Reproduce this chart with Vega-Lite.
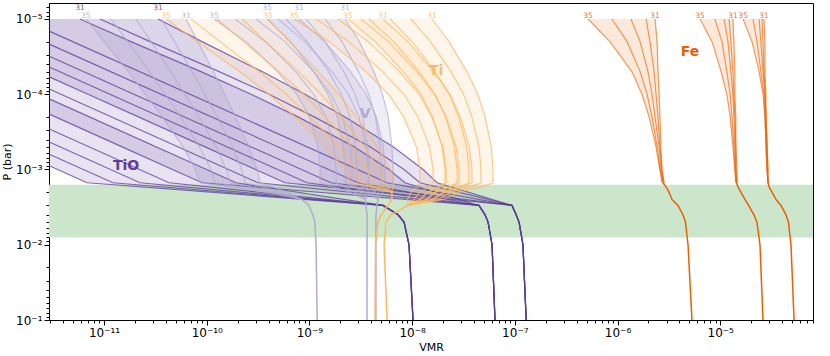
{
"$schema":"https://vega.github.io/schema/vega-lite/v6.json",
"width":764,"height":317,
"autosize":{"type":"none"},
"padding":{"left":49,"top":3,"right":17,"bottom":36},
"background":"white",
"datasets":{
"band":[{"P":0.0016,"P2":0.008,"v":2.91e-12,"v2":8.01e-5}],
"nm":[{"s":"TiO","n":"TiO","v":1.64e-11,"P":9.12e-4},{"s":"V","n":"V","v":3.48e-9,"P":1.82e-4},{"s":"Ti","n":"Ti","v":1.71e-8,"P":4.9e-5},{"s":"Fe","n":"Fe","v":5.08e-6,"P":2.74e-5}],
"lab":[
{"s":"TiO","t":"31","v":5.84e-12,"P":7.7e-6},{"s":"TiO","t":"31","v":3.36e-11,"P":7.7e-6},
{"s":"V","t":"35","v":6.68e-12,"P":9.8e-6},{"s":"V","t":"31","v":6.28e-11,"P":9.8e-6},{"s":"V","t":"35","v":1.18e-10,"P":9.8e-6},
{"s":"V","t":"35","v":3.86e-10,"P":7.7e-6},{"s":"V","t":"31","v":7.92e-10,"P":7.7e-6},{"s":"V","t":"31","v":2.22e-9,"P":7.7e-6},
{"s":"Ti","t":"35","v":4.01e-11,"P":9.8e-6},{"s":"Ti","t":"31","v":3.95e-10,"P":9.8e-6},{"s":"Ti","t":"35","v":7.08e-10,"P":9.8e-6},
{"s":"Ti","t":"35","v":2.37e-9,"P":9.8e-6},{"s":"Ti","t":"31","v":5.21e-9,"P":9.8e-6},{"s":"Ti","t":"31","v":1.56e-8,"P":9.8e-6},
{"s":"Fe","t":"35","v":5.17e-7,"P":9.8e-6},{"s":"Fe","t":"31","v":2.32e-6,"P":9.8e-6},{"s":"Fe","t":"35","v":6.36e-6,"P":9.8e-6},
{"s":"Fe","t":"31","v":1.33e-5,"P":9.8e-6},{"s":"Fe","t":"35","v":1.67e-5,"P":9.8e-6},{"s":"Fe","t":"31","v":2.67e-5,"P":9.8e-6}
],
"c":[
{"s":"TiO","g":"C","t":31,"P":1e-5,"v":3.36e-11},{"s":"TiO","g":"C","t":31,"P":2e-5,"v":9.0e-11},{"s":"TiO","g":"C","t":31,"P":5e-5,"v":3.46e-10},{"s":"TiO","g":"C","t":31,"P":1e-4,"v":9.04e-10},{"s":"TiO","g":"C","t":31,"P":2e-4,"v":2.22e-9},{"s":"TiO","g":"C","t":31,"P":5e-4,"v":6.52e-9},{"s":"TiO","g":"C","t":31,"P":0.001,"v":1.28e-8},{"s":"TiO","g":"C","t":31,"P":0.0015,"v":1.75e-8},{"s":"TiO","g":"C","t":31,"P":0.003,"v":9.39e-8},{"s":"TiO","g":"C","t":31,"P":0.004,"v":1.03e-7},{"s":"TiO","g":"C","t":31,"P":0.005,"v":1.1e-7},{"s":"TiO","g":"C","t":31,"P":0.01,"v":1.2e-7},{"s":"TiO","g":"C","t":31,"P":0.1,"v":1.29e-7},
{"s":"TiO","g":"C","t":32,"P":1e-5,"v":9.13e-12},{"s":"TiO","g":"C","t":32,"P":2e-5,"v":2.81e-11},{"s":"TiO","g":"C","t":32,"P":5e-5,"v":1.32e-10},{"s":"TiO","g":"C","t":32,"P":1e-4,"v":4.04e-10},{"s":"TiO","g":"C","t":32,"P":2e-4,"v":1.11e-9},{"s":"TiO","g":"C","t":32,"P":5e-4,"v":3.89e-9},{"s":"TiO","g":"C","t":32,"P":0.001,"v":8.34e-9},{"s":"TiO","g":"C","t":32,"P":0.0015,"v":1.19e-8},{"s":"TiO","g":"C","t":32,"P":0.003,"v":9.39e-8},{"s":"TiO","g":"C","t":32,"P":0.004,"v":1.03e-7},{"s":"TiO","g":"C","t":32,"P":0.005,"v":1.1e-7},{"s":"TiO","g":"C","t":32,"P":0.01,"v":1.2e-7},{"s":"TiO","g":"C","t":32,"P":0.1,"v":1.29e-7},
{"s":"TiO","g":"C","t":33,"P":1e-5,"v":1.6e-12},{"s":"TiO","g":"C","t":33,"P":0.0015,"v":5.7e-9},{"s":"TiO","g":"C","t":33,"P":0.003,"v":9.39e-8},{"s":"TiO","g":"C","t":33,"P":0.004,"v":1.03e-7},{"s":"TiO","g":"C","t":33,"P":0.005,"v":1.1e-7},{"s":"TiO","g":"C","t":33,"P":0.01,"v":1.2e-7},{"s":"TiO","g":"C","t":33,"P":0.1,"v":1.29e-7},
{"s":"TiO","g":"C","t":34,"P":1e-5,"v":4.56e-13},{"s":"TiO","g":"C","t":34,"P":0.0015,"v":1.62e-9},{"s":"TiO","g":"C","t":34,"P":0.003,"v":9.39e-8},{"s":"TiO","g":"C","t":34,"P":0.004,"v":1.03e-7},{"s":"TiO","g":"C","t":34,"P":0.005,"v":1.1e-7},{"s":"TiO","g":"C","t":34,"P":0.01,"v":1.2e-7},{"s":"TiO","g":"C","t":34,"P":0.1,"v":1.29e-7},
{"s":"TiO","g":"C","t":35,"P":1e-5,"v":1.63e-13},{"s":"TiO","g":"C","t":35,"P":2e-5,"v":5.04e-13},{"s":"TiO","g":"C","t":35,"P":5e-5,"v":2.25e-12},{"s":"TiO","g":"C","t":35,"P":1e-4,"v":6.97e-12},{"s":"TiO","g":"C","t":35,"P":2e-4,"v":2.16e-11},{"s":"TiO","g":"C","t":35,"P":5e-4,"v":9.63e-11},{"s":"TiO","g":"C","t":35,"P":0.001,"v":2.98e-10},{"s":"TiO","g":"C","t":35,"P":0.0015,"v":5.79e-10},{"s":"TiO","g":"C","t":35,"P":0.003,"v":9.39e-8},{"s":"TiO","g":"C","t":35,"P":0.004,"v":1.03e-7},{"s":"TiO","g":"C","t":35,"P":0.005,"v":1.1e-7},{"s":"TiO","g":"C","t":35,"P":0.01,"v":1.2e-7},{"s":"TiO","g":"C","t":35,"P":0.1,"v":1.29e-7},
{"s":"TiO","g":"B","t":31,"P":1e-5,"v":5.84e-12},{"s":"TiO","g":"B","t":31,"P":2e-5,"v":1.83e-11},{"s":"TiO","g":"B","t":31,"P":5e-5,"v":8.78e-11},{"s":"TiO","g":"B","t":31,"P":1e-4,"v":2.7e-10},{"s":"TiO","g":"B","t":31,"P":2e-4,"v":7.74e-10},{"s":"TiO","g":"B","t":31,"P":5e-4,"v":2.72e-9},{"s":"TiO","g":"B","t":31,"P":0.001,"v":5.96e-9},{"s":"TiO","g":"B","t":31,"P":0.0015,"v":8.53e-9},{"s":"TiO","g":"B","t":31,"P":0.003,"v":4.48e-8},{"s":"TiO","g":"B","t":31,"P":0.004,"v":5.13e-8},{"s":"TiO","g":"B","t":31,"P":0.005,"v":5.49e-8},{"s":"TiO","g":"B","t":31,"P":0.01,"v":6.0e-8},{"s":"TiO","g":"B","t":31,"P":0.1,"v":6.41e-8},
{"s":"TiO","g":"B","t":32,"P":1e-5,"v":8.36e-13},{"s":"TiO","g":"B","t":32,"P":0.0015,"v":2.97e-9},{"s":"TiO","g":"B","t":32,"P":0.003,"v":4.48e-8},{"s":"TiO","g":"B","t":32,"P":0.004,"v":5.13e-8},{"s":"TiO","g":"B","t":32,"P":0.005,"v":5.49e-8},{"s":"TiO","g":"B","t":32,"P":0.01,"v":6.0e-8},{"s":"TiO","g":"B","t":32,"P":0.1,"v":6.41e-8},
{"s":"TiO","g":"B","t":33,"P":1e-5,"v":2.66e-13},{"s":"TiO","g":"B","t":33,"P":0.0015,"v":9.47e-10},{"s":"TiO","g":"B","t":33,"P":0.003,"v":4.48e-8},{"s":"TiO","g":"B","t":33,"P":0.004,"v":5.13e-8},{"s":"TiO","g":"B","t":33,"P":0.005,"v":5.49e-8},{"s":"TiO","g":"B","t":33,"P":0.01,"v":6.0e-8},{"s":"TiO","g":"B","t":33,"P":0.1,"v":6.41e-8},
{"s":"TiO","g":"B","t":34,"P":1e-5,"v":8.87e-14},{"s":"TiO","g":"B","t":34,"P":0.0015,"v":3.16e-10},{"s":"TiO","g":"B","t":34,"P":0.003,"v":4.48e-8},{"s":"TiO","g":"B","t":34,"P":0.004,"v":5.13e-8},{"s":"TiO","g":"B","t":34,"P":0.005,"v":5.49e-8},{"s":"TiO","g":"B","t":34,"P":0.01,"v":6.0e-8},{"s":"TiO","g":"B","t":34,"P":0.1,"v":6.41e-8},
{"s":"TiO","g":"B","t":35,"P":1e-5,"v":2.53e-14},{"s":"TiO","g":"B","t":35,"P":2e-5,"v":7.85e-14},{"s":"TiO","g":"B","t":35,"P":5e-5,"v":3.49e-13},{"s":"TiO","g":"B","t":35,"P":1e-4,"v":1.08e-12},{"s":"TiO","g":"B","t":35,"P":2e-4,"v":3.36e-12},{"s":"TiO","g":"B","t":35,"P":5e-4,"v":1.5e-11},{"s":"TiO","g":"B","t":35,"P":0.001,"v":4.63e-11},{"s":"TiO","g":"B","t":35,"P":0.0015,"v":9.0e-11},{"s":"TiO","g":"B","t":35,"P":0.003,"v":4.48e-8},{"s":"TiO","g":"B","t":35,"P":0.004,"v":5.13e-8},{"s":"TiO","g":"B","t":35,"P":0.005,"v":5.49e-8},{"s":"TiO","g":"B","t":35,"P":0.01,"v":6.0e-8},{"s":"TiO","g":"B","t":35,"P":0.1,"v":6.41e-8},
{"s":"TiO","g":"A","t":31,"P":1e-5,"v":5.42e-14},{"s":"TiO","g":"A","t":31,"P":0.0015,"v":1.93e-10},{"s":"TiO","g":"A","t":31,"P":0.003,"v":5.21e-9},{"s":"TiO","g":"A","t":31,"P":0.004,"v":7.3e-9},{"s":"TiO","g":"A","t":31,"P":0.005,"v":8.34e-9},{"s":"TiO","g":"A","t":31,"P":0.01,"v":9.33e-9},{"s":"TiO","g":"A","t":31,"P":0.1,"v":1.02e-8},
{"s":"TiO","g":"A","t":32,"P":1e-5,"v":1.21e-14},{"s":"TiO","g":"A","t":32,"P":0.0015,"v":4.3e-11},{"s":"TiO","g":"A","t":32,"P":0.003,"v":5.21e-9},{"s":"TiO","g":"A","t":32,"P":0.004,"v":7.3e-9},{"s":"TiO","g":"A","t":32,"P":0.005,"v":8.34e-9},{"s":"TiO","g":"A","t":32,"P":0.01,"v":9.33e-9},{"s":"TiO","g":"A","t":32,"P":0.1,"v":1.02e-8},
{"s":"TiO","g":"A","t":33,"P":1e-5,"v":6.31e-15},{"s":"TiO","g":"A","t":33,"P":0.0015,"v":2.24e-11},{"s":"TiO","g":"A","t":33,"P":0.003,"v":5.21e-9},{"s":"TiO","g":"A","t":33,"P":0.004,"v":7.3e-9},{"s":"TiO","g":"A","t":33,"P":0.005,"v":8.34e-9},{"s":"TiO","g":"A","t":33,"P":0.01,"v":9.33e-9},{"s":"TiO","g":"A","t":33,"P":0.1,"v":1.02e-8},
{"s":"TiO","g":"A","t":34,"P":1e-5,"v":3.44e-15},{"s":"TiO","g":"A","t":34,"P":0.0015,"v":1.22e-11},{"s":"TiO","g":"A","t":34,"P":0.003,"v":5.21e-9},{"s":"TiO","g":"A","t":34,"P":0.004,"v":7.3e-9},{"s":"TiO","g":"A","t":34,"P":0.005,"v":8.34e-9},{"s":"TiO","g":"A","t":34,"P":0.01,"v":9.33e-9},{"s":"TiO","g":"A","t":34,"P":0.1,"v":1.02e-8},
{"s":"TiO","g":"A","t":35,"P":1e-5,"v":1.92e-15},{"s":"TiO","g":"A","t":35,"P":0.0015,"v":6.83e-12},{"s":"TiO","g":"A","t":35,"P":0.003,"v":5.21e-9},{"s":"TiO","g":"A","t":35,"P":0.004,"v":7.3e-9},{"s":"TiO","g":"A","t":35,"P":0.005,"v":8.34e-9},{"s":"TiO","g":"A","t":35,"P":0.01,"v":9.33e-9},{"s":"TiO","g":"A","t":35,"P":0.1,"v":1.02e-8},

{"s":"Fe","g":"A","t":35,"P":1e-5,"v":5.17e-7},{"s":"Fe","g":"A","t":35,"P":2e-5,"v":8.44e-7},{"s":"Fe","g":"A","t":35,"P":5e-5,"v":1.38e-6},{"s":"Fe","g":"A","t":35,"P":1e-4,"v":1.73e-6},{"s":"Fe","g":"A","t":35,"P":2e-4,"v":2.03e-6},{"s":"Fe","g":"A","t":35,"P":5e-4,"v":2.37e-6},{"s":"Fe","g":"A","t":35,"P":0.001,"v":2.59e-6},{"s":"Fe","g":"A","t":35,"P":0.0015,"v":2.71e-6},
{"s":"Fe","g":"A","t":34,"P":1e-5,"v":8.83e-7},{"s":"Fe","g":"A","t":34,"P":2e-5,"v":1.24e-6},{"s":"Fe","g":"A","t":34,"P":5e-5,"v":1.66e-6},{"s":"Fe","g":"A","t":34,"P":1e-4,"v":1.94e-6},{"s":"Fe","g":"A","t":34,"P":2e-4,"v":2.17e-6},{"s":"Fe","g":"A","t":34,"P":5e-4,"v":2.43e-6},{"s":"Fe","g":"A","t":34,"P":0.001,"v":2.59e-6},{"s":"Fe","g":"A","t":34,"P":0.0015,"v":2.77e-6},
{"s":"Fe","g":"A","t":33,"P":1e-5,"v":1.35e-6},{"s":"Fe","g":"A","t":33,"P":2e-5,"v":1.66e-6},{"s":"Fe","g":"A","t":33,"P":5e-5,"v":1.98e-6},{"s":"Fe","g":"A","t":33,"P":1e-4,"v":2.17e-6},{"s":"Fe","g":"A","t":33,"P":2e-4,"v":2.32e-6},{"s":"Fe","g":"A","t":33,"P":5e-4,"v":2.54e-6},{"s":"Fe","g":"A","t":33,"P":0.001,"v":2.65e-6},{"s":"Fe","g":"A","t":33,"P":0.0015,"v":2.77e-6},
{"s":"Fe","g":"A","t":32,"P":1e-5,"v":1.9e-6},{"s":"Fe","g":"A","t":32,"P":2e-5,"v":2.07e-6},{"s":"Fe","g":"A","t":32,"P":5e-5,"v":2.27e-6},{"s":"Fe","g":"A","t":32,"P":1e-4,"v":2.37e-6},{"s":"Fe","g":"A","t":32,"P":2e-4,"v":2.48e-6},{"s":"Fe","g":"A","t":32,"P":5e-4,"v":2.59e-6},{"s":"Fe","g":"A","t":32,"P":0.001,"v":2.71e-6},{"s":"Fe","g":"A","t":32,"P":0.0015,"v":2.84e-6},
{"s":"Fe","g":"A","t":31,"P":1e-5,"v":2.32e-6},{"s":"Fe","g":"A","t":31,"P":2e-5,"v":2.43e-6},{"s":"Fe","g":"A","t":31,"P":5e-5,"v":2.48e-6},{"s":"Fe","g":"A","t":31,"P":1e-4,"v":2.54e-6},{"s":"Fe","g":"A","t":31,"P":2e-4,"v":2.59e-6},{"s":"Fe","g":"A","t":31,"P":5e-4,"v":2.65e-6},{"s":"Fe","g":"A","t":31,"P":0.001,"v":2.71e-6},{"s":"Fe","g":"A","t":31,"P":0.0015,"v":2.84e-6},
{"s":"Fe","g":"A","t":0,"P":0.0015,"v":2.77e-6},{"s":"Fe","g":"A","t":0,"P":0.0017,"v":2.97e-6},{"s":"Fe","g":"A","t":0,"P":0.002,"v":3.17e-6},{"s":"Fe","g":"A","t":0,"P":0.0025,"v":3.39e-6},{"s":"Fe","g":"A","t":0,"P":0.003,"v":3.88e-6},{"s":"Fe","g":"A","t":0,"P":0.004,"v":4.34e-6},{"s":"Fe","g":"A","t":0,"P":0.005,"v":4.59e-6},{"s":"Fe","g":"A","t":0,"P":0.01,"v":4.86e-6},{"s":"Fe","g":"A","t":0,"P":0.1,"v":5.31e-6},

{"s":"Fe","g":"B","t":35,"P":1e-5,"v":6.36e-6},{"s":"Fe","g":"B","t":35,"P":2e-5,"v":8.33e-6},{"s":"Fe","g":"B","t":35,"P":5e-5,"v":1.02e-5},{"s":"Fe","g":"B","t":35,"P":1e-4,"v":1.16e-5},{"s":"Fe","g":"B","t":35,"P":2e-4,"v":1.25e-5},{"s":"Fe","g":"B","t":35,"P":5e-4,"v":1.33e-5},{"s":"Fe","g":"B","t":35,"P":0.001,"v":1.39e-5},{"s":"Fe","g":"B","t":35,"P":0.0015,"v":1.42e-5},
{"s":"Fe","g":"B","t":34,"P":1e-5,"v":8.89e-6},{"s":"Fe","g":"B","t":34,"P":2e-5,"v":1.04e-5},{"s":"Fe","g":"B","t":34,"P":5e-5,"v":1.16e-5},{"s":"Fe","g":"B","t":34,"P":1e-4,"v":1.25e-5},{"s":"Fe","g":"B","t":34,"P":2e-4,"v":1.3e-5},{"s":"Fe","g":"B","t":34,"P":5e-4,"v":1.36e-5},{"s":"Fe","g":"B","t":34,"P":0.001,"v":1.39e-5},{"s":"Fe","g":"B","t":34,"P":0.0015,"v":1.42e-5},
{"s":"Fe","g":"B","t":33,"P":1e-5,"v":1.09e-5},{"s":"Fe","g":"B","t":33,"P":2e-5,"v":1.19e-5},{"s":"Fe","g":"B","t":33,"P":5e-5,"v":1.27e-5},{"s":"Fe","g":"B","t":33,"P":1e-4,"v":1.33e-5},{"s":"Fe","g":"B","t":33,"P":2e-4,"v":1.36e-5},{"s":"Fe","g":"B","t":33,"P":5e-4,"v":1.39e-5},{"s":"Fe","g":"B","t":33,"P":0.001,"v":1.42e-5},{"s":"Fe","g":"B","t":33,"P":0.0015,"v":1.46e-5},
{"s":"Fe","g":"B","t":32,"P":1e-5,"v":1.22e-5},{"s":"Fe","g":"B","t":32,"P":2e-5,"v":1.27e-5},{"s":"Fe","g":"B","t":32,"P":5e-5,"v":1.33e-5},{"s":"Fe","g":"B","t":32,"P":1e-4,"v":1.36e-5},{"s":"Fe","g":"B","t":32,"P":2e-4,"v":1.39e-5},{"s":"Fe","g":"B","t":32,"P":5e-4,"v":1.42e-5},{"s":"Fe","g":"B","t":32,"P":0.001,"v":1.42e-5},{"s":"Fe","g":"B","t":32,"P":0.0015,"v":1.46e-5},
{"s":"Fe","g":"B","t":31,"P":1e-5,"v":1.33e-5},{"s":"Fe","g":"B","t":31,"P":2e-5,"v":1.36e-5},{"s":"Fe","g":"B","t":31,"P":5e-5,"v":1.39e-5},{"s":"Fe","g":"B","t":31,"P":1e-4,"v":1.39e-5},{"s":"Fe","g":"B","t":31,"P":2e-4,"v":1.42e-5},{"s":"Fe","g":"B","t":31,"P":5e-4,"v":1.42e-5},{"s":"Fe","g":"B","t":31,"P":0.001,"v":1.46e-5},{"s":"Fe","g":"B","t":31,"P":0.0015,"v":1.46e-5},
{"s":"Fe","g":"B","t":0,"P":0.0015,"v":1.44e-5},{"s":"Fe","g":"B","t":0,"P":0.0017,"v":1.49e-5},{"s":"Fe","g":"B","t":0,"P":0.002,"v":1.59e-5},{"s":"Fe","g":"B","t":0,"P":0.0025,"v":1.74e-5},{"s":"Fe","g":"B","t":0,"P":0.003,"v":1.89e-5},{"s":"Fe","g":"B","t":0,"P":0.004,"v":2.13e-5},{"s":"Fe","g":"B","t":0,"P":0.005,"v":2.28e-5},{"s":"Fe","g":"B","t":0,"P":0.01,"v":2.44e-5},{"s":"Fe","g":"B","t":0,"P":0.1,"v":2.61e-5},

{"s":"Fe","g":"C","t":35,"P":1e-5,"v":1.67e-5},{"s":"Fe","g":"C","t":35,"P":2e-5,"v":2.04e-5},{"s":"Fe","g":"C","t":35,"P":5e-5,"v":2.39e-5},{"s":"Fe","g":"C","t":35,"P":1e-4,"v":2.61e-5},{"s":"Fe","g":"C","t":35,"P":2e-4,"v":2.73e-5},{"s":"Fe","g":"C","t":35,"P":5e-4,"v":2.79e-5},{"s":"Fe","g":"C","t":35,"P":0.001,"v":2.86e-5},{"s":"Fe","g":"C","t":35,"P":0.0015,"v":2.92e-5},
{"s":"Fe","g":"C","t":34,"P":1e-5,"v":2.09e-5},{"s":"Fe","g":"C","t":34,"P":2e-5,"v":2.28e-5},{"s":"Fe","g":"C","t":34,"P":5e-5,"v":2.49e-5},{"s":"Fe","g":"C","t":34,"P":1e-4,"v":2.67e-5},{"s":"Fe","g":"C","t":34,"P":2e-4,"v":2.73e-5},{"s":"Fe","g":"C","t":34,"P":5e-4,"v":2.79e-5},{"s":"Fe","g":"C","t":34,"P":0.001,"v":2.86e-5},{"s":"Fe","g":"C","t":34,"P":0.0015,"v":2.92e-5},
{"s":"Fe","g":"C","t":33,"P":1e-5,"v":2.39e-5},{"s":"Fe","g":"C","t":33,"P":2e-5,"v":2.49e-5},{"s":"Fe","g":"C","t":33,"P":5e-5,"v":2.61e-5},{"s":"Fe","g":"C","t":33,"P":1e-4,"v":2.73e-5},{"s":"Fe","g":"C","t":33,"P":2e-4,"v":2.79e-5},{"s":"Fe","g":"C","t":33,"P":5e-4,"v":2.86e-5},{"s":"Fe","g":"C","t":33,"P":0.001,"v":2.86e-5},{"s":"Fe","g":"C","t":33,"P":0.0015,"v":2.92e-5},
{"s":"Fe","g":"C","t":32,"P":1e-5,"v":2.55e-5},{"s":"Fe","g":"C","t":32,"P":2e-5,"v":2.61e-5},{"s":"Fe","g":"C","t":32,"P":5e-5,"v":2.67e-5},{"s":"Fe","g":"C","t":32,"P":1e-4,"v":2.73e-5},{"s":"Fe","g":"C","t":32,"P":2e-4,"v":2.79e-5},{"s":"Fe","g":"C","t":32,"P":5e-4,"v":2.86e-5},{"s":"Fe","g":"C","t":32,"P":0.001,"v":2.92e-5},{"s":"Fe","g":"C","t":32,"P":0.0015,"v":2.92e-5},
{"s":"Fe","g":"C","t":31,"P":1e-5,"v":2.67e-5},{"s":"Fe","g":"C","t":31,"P":2e-5,"v":2.73e-5},{"s":"Fe","g":"C","t":31,"P":5e-5,"v":2.73e-5},{"s":"Fe","g":"C","t":31,"P":1e-4,"v":2.79e-5},{"s":"Fe","g":"C","t":31,"P":2e-4,"v":2.79e-5},{"s":"Fe","g":"C","t":31,"P":5e-4,"v":2.86e-5},{"s":"Fe","g":"C","t":31,"P":0.001,"v":2.92e-5},{"s":"Fe","g":"C","t":31,"P":0.0015,"v":2.92e-5},
{"s":"Fe","g":"C","t":0,"P":0.0015,"v":2.92e-5},{"s":"Fe","g":"C","t":0,"P":0.0017,"v":2.99e-5},{"s":"Fe","g":"C","t":0,"P":0.002,"v":3.19e-5},{"s":"Fe","g":"C","t":0,"P":0.0025,"v":3.49e-5},{"s":"Fe","g":"C","t":0,"P":0.003,"v":3.91e-5},{"s":"Fe","g":"C","t":0,"P":0.004,"v":4.37e-5},{"s":"Fe","g":"C","t":0,"P":0.005,"v":4.62e-5},{"s":"Fe","g":"C","t":0,"P":0.01,"v":4.89e-5},{"s":"Fe","g":"C","t":0,"P":0.1,"v":5.24e-5},

{"s":"V","g":"A","t":35,"P":1e-5,"v":6.68e-12},{"s":"V","g":"A","t":35,"P":2e-5,"v":1.0e-11},{"s":"V","g":"A","t":35,"P":5e-5,"v":1.72e-11},{"s":"V","g":"A","t":35,"P":1e-4,"v":2.52e-11},{"s":"V","g":"A","t":35,"P":2e-4,"v":3.7e-11},{"s":"V","g":"A","t":35,"P":5e-4,"v":5.87e-11},{"s":"V","g":"A","t":35,"P":0.001,"v":7.76e-11},{"s":"V","g":"A","t":35,"P":0.0015,"v":8.6e-11},{"s":"V","g":"A","t":35,"P":0.0017,"v":1.71e-10},{"s":"V","g":"A","t":35,"P":0.002,"v":3.8e-10},{"s":"V","g":"A","t":35,"P":0.0025,"v":8.47e-10},
{"s":"V","g":"A","t":34,"P":1e-5,"v":1.17e-11},{"s":"V","g":"A","t":34,"P":2e-5,"v":1.7e-11},{"s":"V","g":"A","t":34,"P":5e-5,"v":2.77e-11},{"s":"V","g":"A","t":34,"P":1e-4,"v":3.93e-11},{"s":"V","g":"A","t":34,"P":2e-4,"v":5.58e-11},{"s":"V","g":"A","t":34,"P":5e-4,"v":8.49e-11},{"s":"V","g":"A","t":34,"P":0.001,"v":1.1e-10},{"s":"V","g":"A","t":34,"P":0.0015,"v":1.2e-10},{"s":"V","g":"A","t":34,"P":0.0017,"v":2.16e-10},{"s":"V","g":"A","t":34,"P":0.002,"v":4.29e-10},{"s":"V","g":"A","t":34,"P":0.0025,"v":8.47e-10},
{"s":"V","g":"A","t":33,"P":1e-5,"v":2.05e-11},{"s":"V","g":"A","t":33,"P":2e-5,"v":2.87e-11},{"s":"V","g":"A","t":33,"P":5e-5,"v":4.47e-11},{"s":"V","g":"A","t":33,"P":1e-4,"v":6.13e-11},{"s":"V","g":"A","t":33,"P":2e-4,"v":8.41e-11},{"s":"V","g":"A","t":33,"P":5e-4,"v":1.23e-10},{"s":"V","g":"A","t":33,"P":0.001,"v":1.55e-10},{"s":"V","g":"A","t":33,"P":0.0015,"v":1.69e-10},{"s":"V","g":"A","t":33,"P":0.0017,"v":2.74e-10},{"s":"V","g":"A","t":33,"P":0.002,"v":4.82e-10},{"s":"V","g":"A","t":33,"P":0.0025,"v":8.47e-10},
{"s":"V","g":"A","t":32,"P":1e-5,"v":3.59e-11},{"s":"V","g":"A","t":32,"P":2e-5,"v":4.85e-11},{"s":"V","g":"A","t":32,"P":5e-5,"v":7.21e-11},{"s":"V","g":"A","t":32,"P":1e-4,"v":9.55e-11},{"s":"V","g":"A","t":32,"P":2e-4,"v":1.27e-10},{"s":"V","g":"A","t":32,"P":5e-4,"v":1.78e-10},{"s":"V","g":"A","t":32,"P":0.001,"v":2.19e-10},{"s":"V","g":"A","t":32,"P":0.0015,"v":2.36e-10},{"s":"V","g":"A","t":32,"P":0.0017,"v":3.46e-10},{"s":"V","g":"A","t":32,"P":0.002,"v":5.41e-10},{"s":"V","g":"A","t":32,"P":0.0025,"v":8.47e-10},
{"s":"V","g":"A","t":31,"P":1e-5,"v":6.28e-11},{"s":"V","g":"A","t":31,"P":2e-5,"v":8.19e-11},{"s":"V","g":"A","t":31,"P":5e-5,"v":1.16e-10},{"s":"V","g":"A","t":31,"P":1e-4,"v":1.49e-10},{"s":"V","g":"A","t":31,"P":2e-4,"v":1.91e-10},{"s":"V","g":"A","t":31,"P":5e-4,"v":2.57e-10},{"s":"V","g":"A","t":31,"P":0.001,"v":3.09e-10},{"s":"V","g":"A","t":31,"P":0.0015,"v":3.3e-10},{"s":"V","g":"A","t":31,"P":0.0017,"v":4.38e-10},{"s":"V","g":"A","t":31,"P":0.002,"v":6.1e-10},{"s":"V","g":"A","t":31,"P":0.0025,"v":8.47e-10},
{"s":"V","g":"A","t":0,"P":0.0025,"v":8.47e-10},{"s":"V","g":"A","t":0,"P":0.003,"v":9.9e-10},{"s":"V","g":"A","t":0,"P":0.004,"v":1.08e-9},{"s":"V","g":"A","t":0,"P":0.005,"v":1.13e-9},{"s":"V","g":"A","t":0,"P":0.01,"v":1.16e-9},{"s":"V","g":"A","t":0,"P":0.1,"v":1.19e-9},

{"s":"V","g":"B","t":35,"P":1e-5,"v":1.18e-10},{"s":"V","g":"B","t":35,"P":2e-5,"v":2.4e-10},{"s":"V","g":"B","t":35,"P":5e-5,"v":4.9e-10},{"s":"V","g":"B","t":35,"P":1e-4,"v":7.52e-10},{"s":"V","g":"B","t":35,"P":2e-4,"v":1.0e-9},{"s":"V","g":"B","t":35,"P":5e-4,"v":1.21e-9},{"s":"V","g":"B","t":35,"P":0.001,"v":1.27e-9},{"s":"V","g":"B","t":35,"P":0.0015,"v":1.27e-9},{"s":"V","g":"B","t":35,"P":0.0017,"v":1.72e-9},{"s":"V","g":"B","t":35,"P":0.002,"v":2.45e-9},{"s":"V","g":"B","t":35,"P":0.0025,"v":3.48e-9},
{"s":"V","g":"B","t":34,"P":1e-5,"v":1.89e-10},{"s":"V","g":"B","t":34,"P":2e-5,"v":3.72e-10},{"s":"V","g":"B","t":34,"P":5e-5,"v":7.34e-10},{"s":"V","g":"B","t":34,"P":1e-4,"v":1.1e-9},{"s":"V","g":"B","t":34,"P":2e-4,"v":1.45e-9},{"s":"V","g":"B","t":34,"P":5e-4,"v":1.74e-9},{"s":"V","g":"B","t":34,"P":0.001,"v":1.82e-9},{"s":"V","g":"B","t":34,"P":0.0015,"v":1.82e-9},{"s":"V","g":"B","t":34,"P":0.0017,"v":2.21e-9},{"s":"V","g":"B","t":34,"P":0.002,"v":2.77e-9},{"s":"V","g":"B","t":34,"P":0.0025,"v":3.48e-9},
{"s":"V","g":"B","t":33,"P":1e-5,"v":3.02e-10},{"s":"V","g":"B","t":33,"P":2e-5,"v":5.76e-10},{"s":"V","g":"B","t":33,"P":5e-5,"v":1.1e-9},{"s":"V","g":"B","t":33,"P":1e-4,"v":1.62e-9},{"s":"V","g":"B","t":33,"P":2e-4,"v":2.09e-9},{"s":"V","g":"B","t":33,"P":5e-4,"v":2.49e-9},{"s":"V","g":"B","t":33,"P":0.001,"v":2.6e-9},{"s":"V","g":"B","t":33,"P":0.0015,"v":2.6e-9},{"s":"V","g":"B","t":33,"P":0.0017,"v":2.84e-9},{"s":"V","g":"B","t":33,"P":0.002,"v":3.14e-9},{"s":"V","g":"B","t":33,"P":0.0025,"v":3.48e-9},
{"s":"V","g":"B","t":32,"P":1e-5,"v":4.94e-10},{"s":"V","g":"B","t":32,"P":2e-5,"v":9.04e-10},{"s":"V","g":"B","t":32,"P":5e-5,"v":1.66e-9},{"s":"V","g":"B","t":32,"P":1e-4,"v":2.39e-9},{"s":"V","g":"B","t":32,"P":2e-4,"v":3.04e-9},{"s":"V","g":"B","t":32,"P":5e-4,"v":3.57e-9},{"s":"V","g":"B","t":32,"P":0.001,"v":3.72e-9},{"s":"V","g":"B","t":32,"P":0.0015,"v":3.72e-9},{"s":"V","g":"B","t":32,"P":0.0017,"v":3.64e-9},{"s":"V","g":"B","t":32,"P":0.002,"v":3.56e-9},{"s":"V","g":"B","t":32,"P":0.0025,"v":3.48e-9},
{"s":"V","g":"B","t":31,"P":1e-5,"v":7.92e-10},{"s":"V","g":"B","t":31,"P":2e-5,"v":1.41e-9},{"s":"V","g":"B","t":31,"P":5e-5,"v":2.52e-9},{"s":"V","g":"B","t":31,"P":1e-4,"v":3.56e-9},{"s":"V","g":"B","t":31,"P":2e-4,"v":4.49e-9},{"s":"V","g":"B","t":31,"P":5e-4,"v":5.25e-9},{"s":"V","g":"B","t":31,"P":0.001,"v":5.45e-9},{"s":"V","g":"B","t":31,"P":0.0015,"v":5.45e-9},{"s":"V","g":"B","t":31,"P":0.0017,"v":4.76e-9},{"s":"V","g":"B","t":31,"P":0.002,"v":4.07e-9},{"s":"V","g":"B","t":31,"P":0.0025,"v":3.48e-9},
{"s":"V","g":"B","t":0,"P":0.0025,"v":3.48e-9},{"s":"V","g":"B","t":0,"P":0.003,"v":3.55e-9},{"s":"V","g":"B","t":0,"P":0.004,"v":3.64e-9},{"s":"V","g":"B","t":0,"P":0.005,"v":3.64e-9},{"s":"V","g":"B","t":0,"P":0.01,"v":3.64e-9},{"s":"V","g":"B","t":0,"P":0.1,"v":3.64e-9},

{"s":"V","g":"C","t":35,"P":1e-5,"v":3.86e-10},{"s":"V","g":"C","t":35,"P":2e-5,"v":6.54e-10},{"s":"V","g":"C","t":35,"P":5e-5,"v":1.1e-9},{"s":"V","g":"C","t":35,"P":1e-4,"v":1.51e-9},{"s":"V","g":"C","t":35,"P":2e-4,"v":1.87e-9},{"s":"V","g":"C","t":35,"P":5e-4,"v":2.14e-9},{"s":"V","g":"C","t":35,"P":0.001,"v":2.22e-9},{"s":"V","g":"C","t":35,"P":0.0015,"v":2.22e-9},{"s":"V","g":"C","t":35,"P":0.0017,"v":2.76e-9},{"s":"V","g":"C","t":35,"P":0.002,"v":3.54e-9},{"s":"V","g":"C","t":35,"P":0.0025,"v":4.66e-9},
{"s":"V","g":"C","t":34,"P":1e-5,"v":5.91e-10},{"s":"V","g":"C","t":34,"P":2e-5,"v":9.53e-10},{"s":"V","g":"C","t":34,"P":5e-5,"v":1.54e-9},{"s":"V","g":"C","t":34,"P":1e-4,"v":2.05e-9},{"s":"V","g":"C","t":34,"P":2e-4,"v":2.48e-9},{"s":"V","g":"C","t":34,"P":5e-4,"v":2.82e-9},{"s":"V","g":"C","t":34,"P":0.001,"v":2.91e-9},{"s":"V","g":"C","t":34,"P":0.0015,"v":2.91e-9},{"s":"V","g":"C","t":34,"P":0.0017,"v":3.32e-9},{"s":"V","g":"C","t":34,"P":0.002,"v":3.95e-9},{"s":"V","g":"C","t":34,"P":0.0025,"v":4.66e-9},
{"s":"V","g":"C","t":33,"P":1e-5,"v":9.24e-10},{"s":"V","g":"C","t":33,"P":2e-5,"v":1.42e-9},{"s":"V","g":"C","t":33,"P":5e-5,"v":2.16e-9},{"s":"V","g":"C","t":33,"P":1e-4,"v":2.78e-9},{"s":"V","g":"C","t":33,"P":2e-4,"v":3.3e-9},{"s":"V","g":"C","t":33,"P":5e-4,"v":3.69e-9},{"s":"V","g":"C","t":33,"P":0.001,"v":3.8e-9},{"s":"V","g":"C","t":33,"P":0.0015,"v":3.8e-9},{"s":"V","g":"C","t":33,"P":0.0017,"v":4.01e-9},{"s":"V","g":"C","t":33,"P":0.002,"v":4.41e-9},{"s":"V","g":"C","t":33,"P":0.0025,"v":4.66e-9},
{"s":"V","g":"C","t":32,"P":1e-5,"v":1.42e-9},{"s":"V","g":"C","t":32,"P":2e-5,"v":2.07e-9},{"s":"V","g":"C","t":32,"P":5e-5,"v":3.01e-9},{"s":"V","g":"C","t":32,"P":1e-4,"v":3.78e-9},{"s":"V","g":"C","t":32,"P":2e-4,"v":4.39e-9},{"s":"V","g":"C","t":32,"P":5e-4,"v":4.86e-9},{"s":"V","g":"C","t":32,"P":0.001,"v":4.98e-9},{"s":"V","g":"C","t":32,"P":0.0015,"v":4.98e-9},{"s":"V","g":"C","t":32,"P":0.0017,"v":4.85e-9},{"s":"V","g":"C","t":32,"P":0.002,"v":4.7e-9},{"s":"V","g":"C","t":32,"P":0.0025,"v":4.66e-9},
{"s":"V","g":"C","t":31,"P":1e-5,"v":2.22e-9},{"s":"V","g":"C","t":31,"P":2e-5,"v":3.07e-9},{"s":"V","g":"C","t":31,"P":5e-5,"v":4.24e-9},{"s":"V","g":"C","t":31,"P":1e-4,"v":5.14e-9},{"s":"V","g":"C","t":31,"P":2e-4,"v":5.85e-9},{"s":"V","g":"C","t":31,"P":5e-4,"v":6.36e-9},{"s":"V","g":"C","t":31,"P":0.001,"v":6.52e-9},{"s":"V","g":"C","t":31,"P":0.0015,"v":6.52e-9},{"s":"V","g":"C","t":31,"P":0.0017,"v":5.85e-9},{"s":"V","g":"C","t":31,"P":0.002,"v":5.17e-9},{"s":"V","g":"C","t":31,"P":0.0025,"v":4.66e-9},
{"s":"V","g":"C","t":0,"P":0.0025,"v":4.66e-9},{"s":"V","g":"C","t":0,"P":0.003,"v":4.55e-9},{"s":"V","g":"C","t":0,"P":0.004,"v":4.44e-9},{"s":"V","g":"C","t":0,"P":0.005,"v":4.44e-9},{"s":"V","g":"C","t":0,"P":0.01,"v":4.44e-9},{"s":"V","g":"C","t":0,"P":0.1,"v":4.44e-9},

{"s":"Ti","g":"A","t":35,"P":1e-5,"v":4.01e-11},{"s":"Ti","g":"A","t":35,"P":2e-5,"v":8.1e-11},{"s":"Ti","g":"A","t":35,"P":5e-5,"v":2.09e-10},{"s":"Ti","g":"A","t":35,"P":1e-4,"v":4.04e-10},{"s":"Ti","g":"A","t":35,"P":2e-4,"v":7.21e-10},{"s":"Ti","g":"A","t":35,"P":5e-4,"v":1.45e-9},{"s":"Ti","g":"A","t":35,"P":0.001,"v":2.2e-9},{"s":"Ti","g":"A","t":35,"P":0.0015,"v":2.49e-9},{"s":"Ti","g":"A","t":35,"P":0.0017,"v":3.98e-9},{"s":"Ti","g":"A","t":35,"P":0.002,"v":6.36e-9},
{"s":"Ti","g":"A","t":34,"P":1e-5,"v":7.03e-11},{"s":"Ti","g":"A","t":34,"P":2e-5,"v":1.34e-10},{"s":"Ti","g":"A","t":34,"P":5e-5,"v":3.23e-10},{"s":"Ti","g":"A","t":34,"P":1e-4,"v":5.95e-10},{"s":"Ti","g":"A","t":34,"P":2e-4,"v":1.01e-9},{"s":"Ti","g":"A","t":34,"P":5e-4,"v":1.94e-9},{"s":"Ti","g":"A","t":34,"P":0.001,"v":2.84e-9},{"s":"Ti","g":"A","t":34,"P":0.0015,"v":3.18e-9},{"s":"Ti","g":"A","t":34,"P":0.0017,"v":4.5e-9},{"s":"Ti","g":"A","t":34,"P":0.002,"v":6.36e-9},
{"s":"Ti","g":"A","t":33,"P":1e-5,"v":1.26e-10},{"s":"Ti","g":"A","t":33,"P":2e-5,"v":2.28e-10},{"s":"Ti","g":"A","t":33,"P":5e-5,"v":5.06e-10},{"s":"Ti","g":"A","t":33,"P":1e-4,"v":8.8e-10},{"s":"Ti","g":"A","t":33,"P":2e-4,"v":1.43e-9},{"s":"Ti","g":"A","t":33,"P":5e-4,"v":2.59e-9},{"s":"Ti","g":"A","t":33,"P":0.001,"v":3.67e-9},{"s":"Ti","g":"A","t":33,"P":0.0015,"v":4.07e-9},{"s":"Ti","g":"A","t":33,"P":0.0017,"v":5.09e-9},{"s":"Ti","g":"A","t":33,"P":0.002,"v":6.36e-9},
{"s":"Ti","g":"A","t":32,"P":1e-5,"v":2.21e-10},{"s":"Ti","g":"A","t":32,"P":2e-5,"v":3.78e-10},{"s":"Ti","g":"A","t":32,"P":5e-5,"v":7.82e-10},{"s":"Ti","g":"A","t":32,"P":1e-4,"v":1.3e-9},{"s":"Ti","g":"A","t":32,"P":2e-4,"v":2.02e-9},{"s":"Ti","g":"A","t":32,"P":5e-4,"v":3.45e-9},{"s":"Ti","g":"A","t":32,"P":0.001,"v":4.74e-9},{"s":"Ti","g":"A","t":32,"P":0.0015,"v":5.21e-9},{"s":"Ti","g":"A","t":32,"P":0.0017,"v":5.76e-9},{"s":"Ti","g":"A","t":32,"P":0.002,"v":6.36e-9},
{"s":"Ti","g":"A","t":31,"P":1e-5,"v":3.95e-10},{"s":"Ti","g":"A","t":31,"P":2e-5,"v":6.38e-10},{"s":"Ti","g":"A","t":31,"P":5e-5,"v":1.22e-9},{"s":"Ti","g":"A","t":31,"P":1e-4,"v":1.93e-9},{"s":"Ti","g":"A","t":31,"P":2e-4,"v":2.86e-9},{"s":"Ti","g":"A","t":31,"P":5e-4,"v":4.61e-9},{"s":"Ti","g":"A","t":31,"P":0.001,"v":6.13e-9},{"s":"Ti","g":"A","t":31,"P":0.0015,"v":6.66e-9},{"s":"Ti","g":"A","t":31,"P":0.0017,"v":6.52e-9},{"s":"Ti","g":"A","t":31,"P":0.002,"v":6.36e-9},
{"s":"Ti","g":"A","t":0,"P":0.002,"v":6.36e-9},{"s":"Ti","g":"A","t":0,"P":0.0025,"v":6.36e-9},{"s":"Ti","g":"A","t":0,"P":0.003,"v":5.82e-9},{"s":"Ti","g":"A","t":0,"P":0.004,"v":4.98e-9},{"s":"Ti","g":"A","t":0,"P":0.005,"v":4.66e-9},{"s":"Ti","g":"A","t":0,"P":0.01,"v":4.4e-9},{"s":"Ti","g":"A","t":0,"P":0.1,"v":4.35e-9},

{"s":"Ti","g":"B","t":35,"P":1e-5,"v":7.08e-10},{"s":"Ti","g":"B","t":35,"P":2e-5,"v":1.56e-9},{"s":"Ti","g":"B","t":35,"P":5e-5,"v":3.54e-9},{"s":"Ti","g":"B","t":35,"P":1e-4,"v":5.9e-9},{"s":"Ti","g":"B","t":35,"P":2e-4,"v":8.27e-9},{"s":"Ti","g":"B","t":35,"P":5e-4,"v":1.1e-8},{"s":"Ti","g":"B","t":35,"P":0.001,"v":1.19e-8},{"s":"Ti","g":"B","t":35,"P":0.0015,"v":1.19e-8},{"s":"Ti","g":"B","t":35,"P":0.0017,"v":1.12e-8},{"s":"Ti","g":"B","t":35,"P":0.002,"v":9.82e-9},{"s":"Ti","g":"B","t":35,"P":0.0025,"v":9.0e-9},{"s":"Ti","g":"B","t":35,"P":0.003,"v":9.11e-9},
{"s":"Ti","g":"B","t":34,"P":1e-5,"v":1.16e-9},{"s":"Ti","g":"B","t":34,"P":2e-5,"v":2.42e-9},{"s":"Ti","g":"B","t":34,"P":5e-5,"v":5.17e-9},{"s":"Ti","g":"B","t":34,"P":1e-4,"v":8.31e-9},{"s":"Ti","g":"B","t":34,"P":2e-4,"v":1.14e-8},{"s":"Ti","g":"B","t":34,"P":5e-4,"v":1.48e-8},{"s":"Ti","g":"B","t":34,"P":0.001,"v":1.6e-8},{"s":"Ti","g":"B","t":34,"P":0.0015,"v":1.6e-8},{"s":"Ti","g":"B","t":34,"P":0.0017,"v":1.44e-8},{"s":"Ti","g":"B","t":34,"P":0.002,"v":1.19e-8},{"s":"Ti","g":"B","t":34,"P":0.0025,"v":1.04e-8},{"s":"Ti","g":"B","t":34,"P":0.003,"v":9.11e-9},
{"s":"Ti","g":"B","t":33,"P":1e-5,"v":1.9e-9},{"s":"Ti","g":"B","t":33,"P":2e-5,"v":3.74e-9},{"s":"Ti","g":"B","t":33,"P":5e-5,"v":7.55e-9},{"s":"Ti","g":"B","t":33,"P":1e-4,"v":1.17e-8},{"s":"Ti","g":"B","t":33,"P":2e-4,"v":1.56e-8},{"s":"Ti","g":"B","t":33,"P":5e-4,"v":1.99e-8},{"s":"Ti","g":"B","t":33,"P":0.001,"v":2.14e-8},{"s":"Ti","g":"B","t":33,"P":0.0015,"v":2.14e-8},{"s":"Ti","g":"B","t":33,"P":0.0017,"v":1.87e-8},{"s":"Ti","g":"B","t":33,"P":0.002,"v":1.42e-8},{"s":"Ti","g":"B","t":33,"P":0.0025,"v":1.21e-8},{"s":"Ti","g":"B","t":33,"P":0.003,"v":9.11e-9},
{"s":"Ti","g":"B","t":32,"P":1e-5,"v":3.18e-9},{"s":"Ti","g":"B","t":32,"P":2e-5,"v":5.88e-9},{"s":"Ti","g":"B","t":32,"P":5e-5,"v":1.11e-8},{"s":"Ti","g":"B","t":32,"P":1e-4,"v":1.65e-8},{"s":"Ti","g":"B","t":32,"P":2e-4,"v":2.15e-8},{"s":"Ti","g":"B","t":32,"P":5e-4,"v":2.68e-8},{"s":"Ti","g":"B","t":32,"P":0.001,"v":2.86e-8},{"s":"Ti","g":"B","t":32,"P":0.0015,"v":2.86e-8},{"s":"Ti","g":"B","t":32,"P":0.0017,"v":2.41e-8},{"s":"Ti","g":"B","t":32,"P":0.002,"v":1.68e-8},{"s":"Ti","g":"B","t":32,"P":0.0025,"v":1.4e-8},{"s":"Ti","g":"B","t":32,"P":0.003,"v":9.11e-9},
{"s":"Ti","g":"B","t":31,"P":1e-5,"v":5.21e-9},{"s":"Ti","g":"B","t":31,"P":2e-5,"v":9.08e-9},{"s":"Ti","g":"B","t":31,"P":5e-5,"v":1.62e-8},{"s":"Ti","g":"B","t":31,"P":1e-4,"v":2.33e-8},{"s":"Ti","g":"B","t":31,"P":2e-4,"v":2.95e-8},{"s":"Ti","g":"B","t":31,"P":5e-4,"v":3.6e-8},{"s":"Ti","g":"B","t":31,"P":0.001,"v":3.83e-8},{"s":"Ti","g":"B","t":31,"P":0.0015,"v":3.83e-8},{"s":"Ti","g":"B","t":31,"P":0.0017,"v":3.12e-8},{"s":"Ti","g":"B","t":31,"P":0.002,"v":2.09e-8},{"s":"Ti","g":"B","t":31,"P":0.0025,"v":1.62e-8},{"s":"Ti","g":"B","t":31,"P":0.003,"v":9.11e-9},

{"s":"Ti","g":"C","t":35,"P":1e-5,"v":2.37e-9},{"s":"Ti","g":"C","t":35,"P":2e-5,"v":4.37e-9},{"s":"Ti","g":"C","t":35,"P":5e-5,"v":8.21e-9},{"s":"Ti","g":"C","t":35,"P":1e-4,"v":1.22e-8},{"s":"Ti","g":"C","t":35,"P":2e-4,"v":1.58e-8},{"s":"Ti","g":"C","t":35,"P":5e-4,"v":1.96e-8},{"s":"Ti","g":"C","t":35,"P":0.001,"v":2.09e-8},{"s":"Ti","g":"C","t":35,"P":0.0015,"v":2.09e-8},{"s":"Ti","g":"C","t":35,"P":0.0017,"v":1.83e-8},{"s":"Ti","g":"C","t":35,"P":0.002,"v":1.41e-8},{"s":"Ti","g":"C","t":35,"P":0.0025,"v":1.19e-8},{"s":"Ti","g":"C","t":35,"P":0.003,"v":9.11e-9},
{"s":"Ti","g":"C","t":34,"P":1e-5,"v":3.8e-9},{"s":"Ti","g":"C","t":34,"P":2e-5,"v":6.61e-9},{"s":"Ti","g":"C","t":34,"P":5e-5,"v":1.17e-8},{"s":"Ti","g":"C","t":34,"P":1e-4,"v":1.67e-8},{"s":"Ti","g":"C","t":34,"P":2e-4,"v":2.12e-8},{"s":"Ti","g":"C","t":34,"P":5e-4,"v":2.58e-8},{"s":"Ti","g":"C","t":34,"P":0.001,"v":2.74e-8},{"s":"Ti","g":"C","t":34,"P":0.0015,"v":2.74e-8},{"s":"Ti","g":"C","t":34,"P":0.0017,"v":2.32e-8},{"s":"Ti","g":"C","t":34,"P":0.002,"v":1.68e-8},{"s":"Ti","g":"C","t":34,"P":0.0025,"v":1.37e-8},{"s":"Ti","g":"C","t":34,"P":0.003,"v":9.11e-9},
{"s":"Ti","g":"C","t":33,"P":1e-5,"v":6.1e-9},{"s":"Ti","g":"C","t":33,"P":2e-5,"v":1.0e-8},{"s":"Ti","g":"C","t":33,"P":5e-5,"v":1.67e-8},{"s":"Ti","g":"C","t":33,"P":1e-4,"v":2.3e-8},{"s":"Ti","g":"C","t":33,"P":2e-4,"v":2.85e-8},{"s":"Ti","g":"C","t":33,"P":5e-4,"v":3.39e-8},{"s":"Ti","g":"C","t":33,"P":0.001,"v":3.58e-8},{"s":"Ti","g":"C","t":33,"P":0.0015,"v":3.58e-8},{"s":"Ti","g":"C","t":33,"P":0.0017,"v":2.94e-8},{"s":"Ti","g":"C","t":33,"P":0.002,"v":2.0e-8},{"s":"Ti","g":"C","t":33,"P":0.0025,"v":1.56e-8},{"s":"Ti","g":"C","t":33,"P":0.003,"v":9.11e-9},
{"s":"Ti","g":"C","t":32,"P":1e-5,"v":9.75e-9},{"s":"Ti","g":"C","t":32,"P":2e-5,"v":1.51e-8},{"s":"Ti","g":"C","t":32,"P":5e-5,"v":2.39e-8},{"s":"Ti","g":"C","t":32,"P":1e-4,"v":3.17e-8},{"s":"Ti","g":"C","t":32,"P":2e-4,"v":3.82e-8},{"s":"Ti","g":"C","t":32,"P":5e-4,"v":4.47e-8},{"s":"Ti","g":"C","t":32,"P":0.001,"v":4.69e-8},{"s":"Ti","g":"C","t":32,"P":0.0015,"v":4.69e-8},{"s":"Ti","g":"C","t":32,"P":0.0017,"v":3.72e-8},{"s":"Ti","g":"C","t":32,"P":0.002,"v":2.39e-8},{"s":"Ti","g":"C","t":32,"P":0.0025,"v":1.79e-8},{"s":"Ti","g":"C","t":32,"P":0.003,"v":9.11e-9},
{"s":"Ti","g":"C","t":31,"P":1e-5,"v":1.56e-8},{"s":"Ti","g":"C","t":31,"P":2e-5,"v":2.29e-8},{"s":"Ti","g":"C","t":31,"P":5e-5,"v":3.41e-8},{"s":"Ti","g":"C","t":31,"P":1e-4,"v":4.36e-8},{"s":"Ti","g":"C","t":31,"P":2e-4,"v":5.14e-8},{"s":"Ti","g":"C","t":31,"P":5e-4,"v":5.9e-8},{"s":"Ti","g":"C","t":31,"P":0.001,"v":6.13e-8},{"s":"Ti","g":"C","t":31,"P":0.0015,"v":6.13e-8},{"s":"Ti","g":"C","t":31,"P":0.0017,"v":4.71e-8},{"s":"Ti","g":"C","t":31,"P":0.002,"v":2.85e-8},{"s":"Ti","g":"C","t":31,"P":0.0025,"v":2.04e-8},{"s":"Ti","g":"C","t":31,"P":0.003,"v":9.11e-9},
{"s":"Ti","g":"BC","t":0,"P":0.003,"v":9.11e-9},{"s":"Ti","g":"BC","t":0,"P":0.004,"v":6.23e-9},{"s":"Ti","g":"BC","t":0,"P":0.005,"v":5.57e-9},{"s":"Ti","g":"BC","t":0,"P":0.01,"v":5.33e-9},{"s":"Ti","g":"BC","t":0,"P":0.1,"v":5.7e-9}
]
},
"encoding":{
 "x":{"field":"v","type":"quantitative","title":"VMR","scale":{"type":"log","domain":[2.91e-12,8.01e-5],"nice":false},
   "axis":{"title":"VMR","grid":false,"labelOverlap":false,"labelFlush":false,"labelBound":false,"labelPadding":2,"titlePadding":3,
    "tickSize":{"condition":{"test":"abs(log(datum.value)/LN10 - round(log(datum.value)/LN10)) < 0.01","value":5},"value":3},
    "values":[3e-12,4e-12,5e-12,6e-12,7e-12,8e-12,9e-12,1e-11,2e-11,3e-11,4e-11,5e-11,6e-11,7e-11,8e-11,9e-11,1e-10,2e-10,3e-10,4e-10,5e-10,6e-10,7e-10,8e-10,9e-10,1e-9,2e-9,3e-9,4e-9,5e-9,6e-9,7e-9,8e-9,9e-9,1e-8,2e-8,3e-8,4e-8,5e-8,6e-8,7e-8,8e-8,9e-8,1e-7,2e-7,3e-7,4e-7,5e-7,6e-7,7e-7,8e-7,9e-7,1e-6,2e-6,3e-6,4e-6,5e-6,6e-6,7e-6,8e-6,9e-6,1e-5,2e-5,3e-5,4e-5,5e-5,6e-5,7e-5,8e-5],
    "labelExpr":"abs(log(datum.value)/LN10 - round(log(datum.value)/LN10)) > 0.01 ? '' : '10⁻' + (round(-log(datum.value)/LN10) >= 10 ? '¹' : '') + substring('⁰¹²³⁴⁵⁶⁷⁸⁹', round(-log(datum.value)/LN10) % 10, round(-log(datum.value)/LN10) % 10 + 1)"}},
 "y":{"field":"P","type":"quantitative","title":"P (bar)","scale":{"type":"log","domain":[6.13e-6,0.1],"nice":false,"reverse":true},
   "axis":{"title":"P (bar)","grid":false,"labelOverlap":false,"labelFlush":false,"labelBound":false,"labelPadding":2,"titlePadding":3,
    "tickSize":{"condition":{"test":"abs(log(datum.value)/LN10 - round(log(datum.value)/LN10)) < 0.01","value":5},"value":3},
    "values":[7e-6,8e-6,9e-6,1e-5,2e-5,3e-5,4e-5,5e-5,6e-5,7e-5,8e-5,9e-5,1e-4,2e-4,3e-4,4e-4,5e-4,6e-4,7e-4,8e-4,9e-4,0.001,0.002,0.003,0.004,0.005,0.006,0.007,0.008,0.009,0.01,0.02,0.03,0.04,0.05,0.06,0.07,0.08,0.09,0.1],
    "labelExpr":"abs(log(datum.value)/LN10 - round(log(datum.value)/LN10)) > 0.01 ? '' : '10⁻' + (round(-log(datum.value)/LN10) >= 10 ? '¹' : '') + substring('⁰¹²³⁴⁵⁶⁷⁸⁹', round(-log(datum.value)/LN10) % 10, round(-log(datum.value)/LN10) % 10 + 1)"}}
},
"layer":[
{"data":{"name":"band"},"mark":{"type":"rect","color":"#cce6cc"},
 "encoding":{"x2":{"field":"v2"},"y2":{"field":"P2"}}},
{"data":{"name":"c"},"transform":[{"filter":"datum.t == 31 || datum.t == 35"},{"joinaggregate":[{"op":"min","field":"v","as":"lo"},{"op":"max","field":"v","as":"hi"}],"groupby":["s","g","P"]},{"filter":"datum.t == 31"}],
 "mark":{"type":"area","orient":"horizontal","strokeWidth":0,"clip":true},
 "encoding":{"x":{"field":"lo","type":"quantitative","title":"VMR"},"x2":{"field":"hi"},
  "fill":{"field":"s","type":"nominal","scale":{"domain":["TiO","V","Ti","Fe"],"range":["rgba(94,60,153,0.14)","rgba(164,155,203,0.18)","rgba(253,184,99,0.13)","rgba(230,97,1,0.14)"]},"legend":null},
  "detail":{"field":"g"}}},
{"data":{"name":"c"},"transform":[{"filter":"datum.t > 0"}],
 "mark":{"type":"line","clip":true,"strokeWidth":1.2},
 "encoding":{
  "stroke":{"field":"s","type":"nominal","scale":{"domain":["TiO","V","Ti","Fe"],"range":["rgba(94,60,153,0.75)","rgba(178,171,210,0.7)","rgba(253,184,99,0.75)","rgba(230,97,1,0.62)"]},"legend":null},
  "detail":[{"field":"g"},{"field":"t"}],"order":{"field":"P","type":"quantitative"}}},
{"data":{"name":"c"},"transform":[{"filter":"datum.t == 0"}],
 "mark":{"type":"line","clip":true,"strokeWidth":1.5},
 "encoding":{
  "color":{"field":"s","type":"nominal","scale":{"domain":["TiO","V","Ti","Fe"],"range":["#5e3c99","#b2abd2","#fdb863","#e66101"]},"legend":null},
  "detail":{"field":"g"},"order":{"field":"P","type":"quantitative"}}},
{"data":{"name":"lab"},
 "mark":{"type":"text","fontSize":7.5,"baseline":"alphabetic","align":"center","opacity":0.85,"font":"DejaVu Sans"},
 "encoding":{"text":{"field":"t"},
  "color":{"field":"s","type":"nominal","scale":{"domain":["TiO","V","Ti","Fe"],"range":["#5e3c99","#b2abd2","#fdb863","#e66101"]},"legend":null}}},
{"data":{"name":"nm"},
 "mark":{"type":"text","fontSize":14,"fontWeight":"bold","baseline":"middle","align":"center","font":"DejaVu Sans"},
 "encoding":{"text":{"field":"n"},
  "color":{"field":"s","type":"nominal","scale":{"domain":["TiO","V","Ti","Fe"],"range":["#5e3c99","#b2abd2","#fdb863","#e66101"]},"legend":null}}}
],
"config":{
 "font":"DejaVu Sans",
 "view":{"stroke":"black","strokeWidth":1},
 "axis":{"labelFont":"DejaVu Sans","titleFont":"DejaVu Sans","labelFontSize":12,"titleFontSize":11,"titleFontWeight":"normal","labelColor":"black","titleColor":"black","tickColor":"black","domainColor":"black","tickWidth":1,"domainWidth":1}
}
}
